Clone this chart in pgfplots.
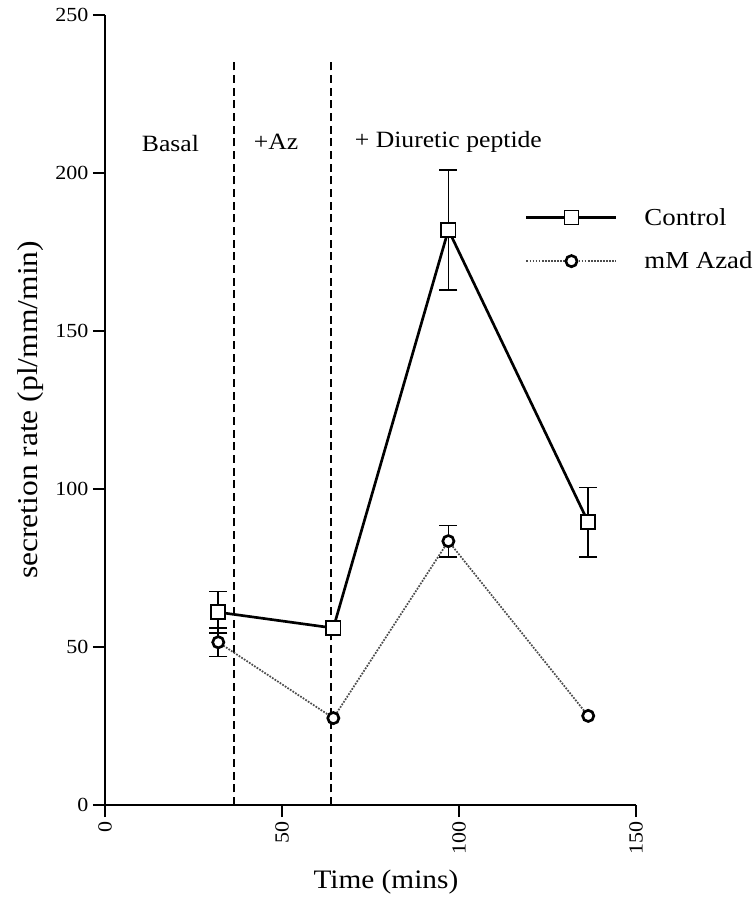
\documentclass[border=0pt]{standalone}
\usepackage{fontspec}
\setmainfont{Liberation Serif}[FakeStretch=1.1]
\usepackage{pgfplots}
\pgfplotsset{compat=1.18}
\begin{document}
\begin{tikzpicture}
\begin{axis}[
  scale only axis, width=398.25pt, height=592.5pt,
  xmin=0, xmax=150, ymin=0, ymax=250,
  axis lines=left,
  axis line style={-, line width=1.4pt, black},
  xtick={0,50,100,150}, ytick={0,50,100,150,200,250},
  tick align=outside, major tick length=9pt,
  tick style={line width=1.2pt, black},
  /pgf/number format/assume math mode=true,
  ticklabel style={font=\fontsize{15}{15}\selectfont},
  xticklabel style={rotate=90, anchor=east},
  xlabel={Time (mins)},
  ylabel={secretion rate (pl/mm/min)},
  label style={font=\fontsize{20}{24}\selectfont},
  xlabel style={at={(axis description cs:0.529,-0.0975)}, anchor=center},
  ylabel style={at={(axis description cs:-0.141,0.5)}, anchor=center, font=\fontsize{21.5}{24}\selectfont},
  clip=false,
  legend image code/.code={\draw[mark repeat=2,mark phase=2] plot coordinates {(0pt,0pt) (33.75pt,0pt) (67.5pt,0pt)};},
  legend style={draw=none, fill=none, at={(axis cs:118.6,179.0)}, anchor=west,
    font=\fontsize{18.3}{22}\selectfont, row sep=14.5pt, inner sep=0pt,
    /tikz/every odd column/.append style={column sep=18pt}},
  legend cell align=left,
]
\coordinate (O) at (rel axis cs:0,0);
% phase separators
\addplot[forget plot, black, line width=1.6pt, dash pattern=on 6pt off 3.5pt] coordinates {(36.5,0) (36.5,235)};
\addplot[forget plot, black, line width=1.6pt, dash pattern=on 6pt off 3.5pt] coordinates {(63.8,0) (63.8,235)};
% error bars
\addplot[forget plot, draw=none, mark=none,
  error bars/.cd, y dir=both, y explicit,
  error bar style={draw=black, solid, line width=1.2pt},
  error mark options={draw=black, solid, rotate=90, line width=1.2pt, mark size=6.75pt}]
  coordinates {(32,61) +- (0,6.5) (97,182) +- (0,19) (136.5,89.5) +- (0,11)};
\addplot[forget plot, draw=none, mark=none,
  error bars/.cd, y dir=both, y explicit,
  error bar style={draw=black, solid, line width=1.2pt},
  error mark options={draw=black, solid, rotate=90, line width=1.2pt, mark size=6.75pt}]
  coordinates {(32,51.5) +- (0,4.5) (97,83.5) +- (0,5)};
% series
\addplot[black, line width=2pt, mark=square*, mark size=5.3pt,
  mark options={solid, fill=white, line width=1.3pt}]
  coordinates {(32,61) (64.5,56) (97,182) (136.5,89.5)};
\addlegendentry{Control}
\addplot[black!70, line width=1.3pt, densely dotted, mark=*, mark size=4.2pt,
  mark options={solid, black, fill=white, line width=2pt}]
  coordinates {(32,51.5) (64.5,27.5) (97,83.5) (136.5,28.2)};
\addlegendentry{mM Azad}
% annotations
\node[font=\fontsize{17.5}{20}\selectfont] at (axis cs:18.5,209.2) {Basal};
\node[font=\fontsize{17.5}{20}\selectfont] at (axis cs:48.3,209.8) {+Az};
\node[font=\fontsize{17.5}{20}\selectfont] at (axis cs:97,209.8) {+ Diuretic peptide};
\end{axis}
\pgfresetboundingbox
\path[use as bounding box] ([shift={(-78.75pt,-81pt)}]O) rectangle ++(567pt,684.75pt);
\end{tikzpicture}
\end{document}
